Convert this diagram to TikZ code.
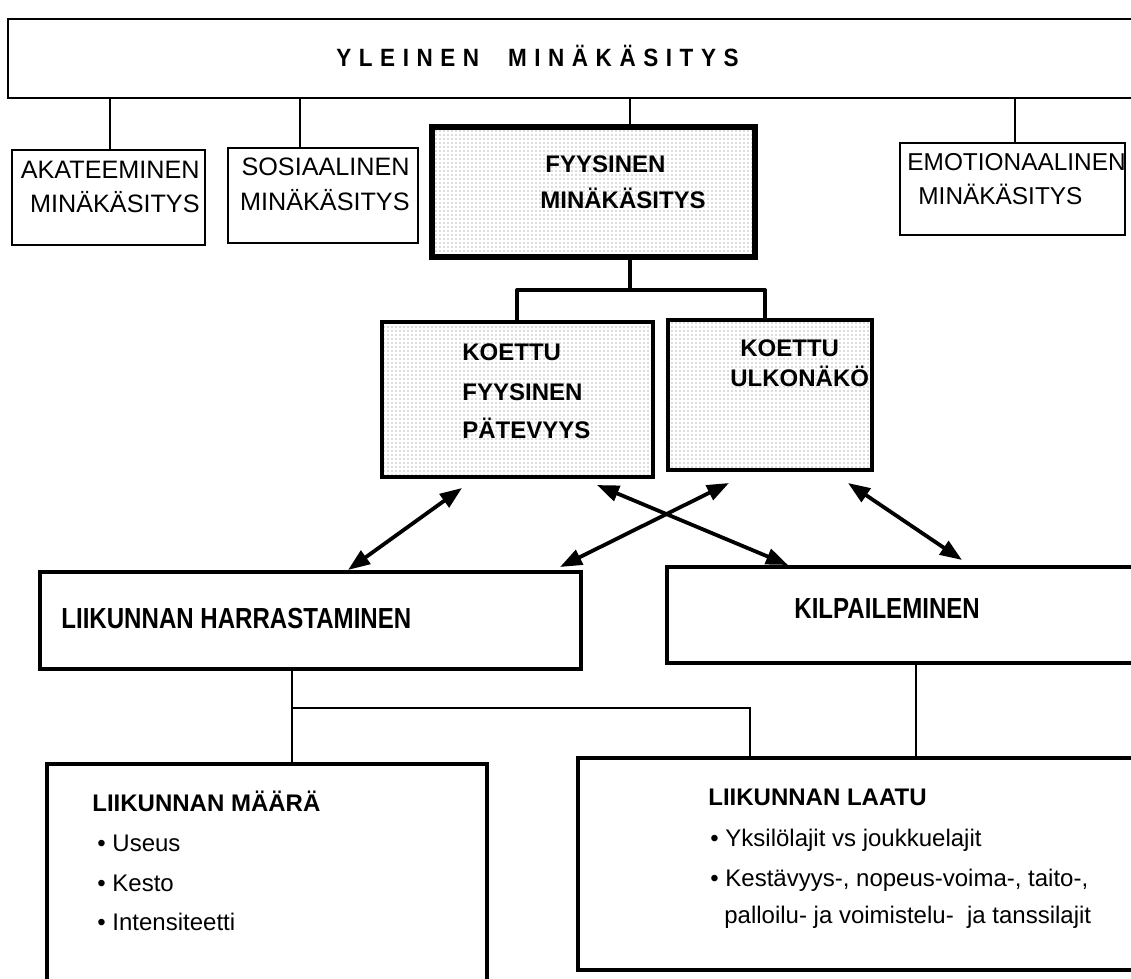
\documentclass[tikz,border=0pt]{standalone}
\usepackage{fontspec}
\setmainfont{Liberation Sans}
\usepackage{graphicx}
\usetikzlibrary{arrows.meta,patterns.meta}
\newcommand\tsp{\hspace{4.2pt}}
\begin{document}
\begin{tikzpicture}[x=0.5pt,y=-0.5pt,
  box/.style={draw, line width=0.8pt, anchor=north west, inner sep=0pt, outer sep=0pt},
  heavy/.style={line width=2pt},
  heavier/.style={line width=2.6pt},
  shaded/.style={pattern={Dots[distance=2pt,radius=0.34pt]}, pattern color=black!60},
  conn/.style={line width=0.6pt},
  thickconn/.style={line width=2pt, line join=round},
  arr/.style={line width=1.9pt, {Triangle[length=11pt,width=8pt]}-{Triangle[length=11pt,width=8pt]}},
  lbl/.style={anchor=base west, inner sep=0pt, font=\fontsize{12}{14}\selectfont},
  lbln/.style={anchor=base west, inner sep=0pt, font=\fontsize{12.2}{14}\selectfont},
  lble/.style={anchor=base east, inner sep=0pt, font=\fontsize{12.6}{14}\selectfont},
  lblb/.style={anchor=base west, inner sep=0pt, font=\fontsize{12}{14}\selectfont\bfseries},
  lblc/.style={anchor=base west, inner sep=0pt, font=\fontsize{14.5}{16}\selectfont\bfseries},
  lbls/.style={anchor=base west, inner sep=0pt, font=\fontsize{12}{14}\selectfont\bfseries}
]
\useasboundingbox (0,0) rectangle (1131,979);
\clip (0,0) rectangle (1131,979);

% boxes
\node[box, line width=1.3pt, minimum width=571pt, minimum height=39.5pt] (top) at (8,19) {};
\node[box, minimum width=96.5pt, minimum height=47.5pt] (aka) at (12,150) {};
\node[box, minimum width=95pt, minimum height=47.5pt] (sos) at (228,148) {};
\node[box, heavier, shaded, minimum width=161.5pt, minimum height=65pt] (fyy) at (432,127) {};
\node[box, minimum width=112.5pt, minimum height=46pt] (emo) at (900,143) {};
\node[box, heavy, shaded, minimum width=135.5pt, minimum height=77.5pt] (kfp) at (382,322) {};
\node[box, heavy, shaded, minimum width=102pt, minimum height=75pt] (kul) at (668,320) {};
\node[box, heavy, minimum width=270.5pt, minimum height=48.5pt] (lh) at (40,572) {};
\node[box, heavy, minimum width=241.5pt, minimum height=48pt] (kil) at (667,567) {};
\node[box, heavy, minimum width=220pt, minimum height=125pt] (lm) at (47,764) {};
\node[box, heavy, minimum width=290pt, minimum height=106pt] (ll) at (578,758) {};

% texts
\node[anchor=center, inner sep=0pt, font=\fontsize{12.5}{14}\selectfont\bfseries] (tt) at (537.5,56)
  {\scalebox{0.9}[1]{Y\tsp L\tsp E\tsp I\tsp N\tsp E\tsp N\hspace{16pt}M\tsp I\tsp N\tsp Ä\tsp K\tsp Ä\tsp S\tsp I\tsp T\tsp Y\tsp S}};
\node[lble] (aka1) at (200,178) {AKATEEMINEN};
\node[lble] (aka2) at (200,213) {MINÄKÄSITYS};
\node[lble] (sos1) at (410,176) {SOSIAALINEN};
\node[lble] (sos2) at (410,211) {MINÄKÄSITYS};
\node[lbln] (emo1) at (907,170) {EMOTIONAALINEN};
\node[lbln] (emo2) at (918,205) {MINÄKÄSITYS};
\node[lblb] (fyy1) at (545,173) {FYYSINEN};
\node[lblb] (fyy2) at (540,208) {MINÄKÄSITYS};
\node[lblb] (kfp1) at (462,360) {KOETTU};
\node[lblb] (kfp2) at (462,400) {FYYSINEN};
\node[lblb] (kfp3) at (462,438) {PÄTEVYYS};
\node[lblb] (kul1) at (740,356) {KOETTU};
\node[lblb] (kul2) at (730,386) {ULKONÄKÖ};
\node[lblc] (lh1) at (61,628) {\scalebox{0.83}[1]{LIIKUNNAN HARRASTAMINEN}};
\node[lblc] (kil1) at (794,618) {\scalebox{0.83}[1]{KILPAILEMINEN}};
\node[lbls] (lm1) at (92,811) {LIIKUNNAN MÄÄRÄ};
\node[lbl] (lm2) at (97,851) {\textbullet\ Useus};
\node[lbl] (lm3) at (97,891) {\textbullet\ Kesto};
\node[lbl] (lm4) at (97,930) {\textbullet\ Intensiteetti};
\node[lbls] (ll1) at (708,805) {LIIKUNNAN LAATU};
\node[lbl] (ll2) at (710,846) {\textbullet\ Yksilölajit vs joukkuelajit};
\node[lbl] (ll3) at (710,886) {\textbullet\ Kestävyys-, nopeus-voima-, taito-,};
\node[lbl] (ll4) at (724,923) {palloilu- ja voimistelu-\ \ ja tanssilajit};

% connector points
\coordinate (akaT) at ([xshift=49pt]aka.north west);
\coordinate (sosT) at ([xshift=36pt]sos.north west);
\coordinate (fyyT) at ([xshift=99pt]fyy.north west);
\coordinate (emoT) at ([xshift=57.5pt]emo.north west);
\coordinate (fyyB) at ([xshift=99pt]fyy.south west);
\coordinate (jf) at (630,290);
\coordinate (kfpT) at ([xshift=67.5pt]kfp.north west);
\coordinate (kulT) at ([xshift=48.5pt]kul.north west);
\coordinate (lhB) at ([xshift=126pt]lh.south west);
\coordinate (lmT) at (lhB |- lm.north);
\coordinate (jl) at (lhB |- 0,708);
\coordinate (llT) at ([xshift=86pt]ll.north west);
\coordinate (kilB) at ([xshift=124.5pt]kil.south west);
\coordinate (llT2) at (kilB |- ll.north);

\draw[conn] (akaT) -- (akaT |- top.south);
\draw[conn] (sosT) -- (sosT |- top.south);
\draw[conn] (fyyT) -- (fyyT |- top.south);
\draw[conn] (emoT) -- (emoT |- top.south);
\draw[thickconn] (fyyB) -- (jf);
\draw[thickconn] (kfpT) |- (kulT |- jf) -- (kulT);
\draw[conn] (lhB) -- (lmT);
\draw[conn] (jl) -| (llT);
\draw[conn] (kilB) -- (llT2);

% arrows
\coordinate (a1t) at (462,488); \coordinate (a1b) at (348,570);
\coordinate (a2t) at (597,485); \coordinate (a2b) at (788,565);
\coordinate (a3t) at (729,483); \coordinate (a3b) at (560,567);
\coordinate (a4t) at (848,483); \coordinate (a4b) at (962,560);
\draw[arr] (a1t) -- (a1b);
\draw[arr] (a2t) -- (a2b);
\draw[arr] (a3t) -- (a3b);
\draw[arr] (a4t) -- (a4b);
\end{tikzpicture}
\end{document}
